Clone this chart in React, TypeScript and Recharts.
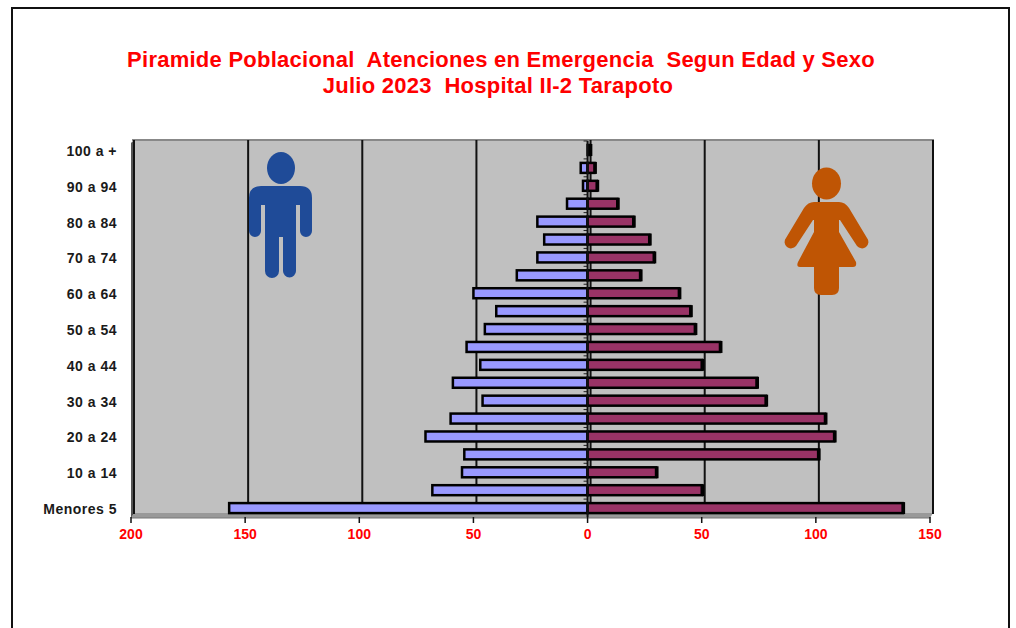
import { BarChart, Bar, XAxis, YAxis, CartesianGrid, ReferenceLine } from 'recharts';

const ageGroups = [
  'Menores 5', '5 a 9', '10 a 14', '15 a 19', '20 a 24', '25 a 29', '30 a 34',
  '35 a 39', '40 a 44', '45 a 49', '50 a 54', '55 a 59', '60 a 64', '65 a 69',
  '70 a 74', '75 a 79', '80 a 84', '85 a 89', '90 a 94', '95 a 99', '100 a +',
];
const hombres = [157, 68, 55, 54, 71, 60, 46, 59, 47, 53, 45, 40, 50, 31, 22, 19, 22, 9, 2, 3, 0];
const mujeres = [138, 50, 30, 101, 108, 104, 78, 74, 50, 58, 47, 45, 40, 23, 29, 27, 20, 13, 4, 3, 1];
const xTicks = [-200, -150, -100, -50, 0, 50, 100, 150];

const tableData = ageGroups.map((edad, i) => ({
  edad,
  hombres: -hombres[i],
  mujeres: mujeres[i],
}));

const FONT = '"Liberation Sans", Arial, sans-serif';

function HombreBar(props: any) {
  const { x, y, width, height } = props;
  const left = Math.min(x, x + width);
  return (
    <g>
      <line x1={x - 4} x2={x} y1={y - 4} y2={y - 4} stroke="#222" strokeWidth={1} />
      <rect x={left} y={y} width={Math.abs(width)} height={height} fill="#9999FF" stroke="#000" strokeWidth={2.5} />
    </g>
  );
}

function MujerBar(props: any) {
  const { x, y, width, height } = props;
  return (
    <g>
      <rect x={x} y={y} width={width} height={height} fill="#993366" stroke="#000" strokeWidth={2.5} />
      <line x1={x + width + 1.5} x2={x + width + 1.5} y1={y - 1} y2={y + height + 1} stroke="#000" strokeWidth={2} />
    </g>
  );
}

function GridLine(props: any) {
  return <line x1={props.x1 + 3} x2={props.x2 + 3} y1={props.y1 - 1} y2={props.y2 - 3} stroke="#111" strokeWidth={2} />;
}

function Backdrop() {
  return (
    <svg width={1016} height={628} style={{ position: 'absolute', left: 0, top: 0 }}>
      <rect x={134} y={140} width={799} height={374} fill="#C0C0C0" />
      <path d="M131 143 L134 140 L134 514 L131 518 Z" fill="#555" />
      <path d="M131 518 L134 513 L933 513 L930 518 Z" fill="#999" />
      <line x1={131} x2={930} y1={518} y2={518} stroke="#777" strokeWidth={1} />
      <line x1={132} x2={934} y1={140} y2={140} stroke="#888" strokeWidth={2} />
    </svg>
  );
}

function Figuras() {
  return (
    <svg width={1016} height={628} style={{ position: 'absolute', left: 0, top: 0 }}>
      <g fill="#1F4B98">
        <ellipse cx={281} cy={168} rx={14} ry={16} />
        <path d="M261 186 H300 Q312 186 312 198 V231 A6 6 0 0 1 300 231 V205 H296 V271 A6.5 6.5 0 0 1 283 271 V237 H279 V271 A7 7 0 0 1 265 271 V205 H261 V231 A6 6 0 0 1 249 231 V198 Q249 186 261 186 Z" />
      </g>
      <g fill="#BF5504">
        <ellipse cx={826.5} cy={183.5} rx={14.5} ry={16} />
        <path d="M814 202 H839 Q845 202 849 208 L867 238 A6 6 0 0 1 857 246 L840 220 H839 V232 L856 262 Q857 267 853 267 H839 V288 Q839 295 832 295 H821 Q814 295 814 288 V267 H800 Q796 267 798 262 L814 232 V220 H813 L796 246 A6 6 0 0 1 786 238 L804 208 Q808 202 814 202 Z" />
      </g>
    </svg>
  );
}

const titleStyle = {
  position: 'absolute',
  top: 47,
  width: 1002,
  textAlign: 'center',
  fontFamily: FONT,
  fontWeight: 700,
  fontSize: 22,
  letterSpacing: 0.25,
  lineHeight: '26px',
  color: '#FF0000',
  whiteSpace: 'pre',
} as const;

export default function App() {
  return (
    <div style={{ position: 'fixed', left: 0, top: 0, width: 1016, height: 628, overflow: 'hidden', background: '#fff' }}>
      <div style={{ position: 'absolute', left: 11, top: 7, width: 999, height: 660, border: '2px solid #111', boxSizing: 'border-box' }} />
      <Backdrop />
      <div style={{ position: 'absolute', left: 0, top: 0 }}>
        <BarChart
          width={1016}
          height={628}
          data={tableData}
          layout="vertical"
          stackOffset="sign"
          barSize={10}
          margin={{ top: 141, right: 86, bottom: 85, left: 0 }}
        >
          <CartesianGrid horizontal={false} vertical={<GridLine />} />
          <XAxis
            type="number"
            domain={[-200, 150]}
            ticks={xTicks}
            tickFormatter={(v: number) => String(Math.abs(v))}
            tick={{ fontSize: 14, fontWeight: 700, fill: '#FF0000', fontFamily: FONT, dy: 1 }}
            tickLine={{ stroke: '#111', strokeWidth: 1.5 }}
            axisLine={false}
            tickSize={6}
            tickMargin={5}
            height={26}
          />
          <YAxis
            type="category"
            dataKey="edad"
            reversed
            interval={1}
            width={131}
            tick={{ fontSize: 14, fontWeight: 700, fill: '#1A1A1A', fontFamily: FONT, letterSpacing: 0.5, dy: 1 }}
            tickLine={false}
            axisLine={false}
            tickMargin={8}
          />
          <ReferenceLine x={0} stroke="#111" strokeWidth={2} />
          <Bar dataKey="hombres" stackId="a" shape={<HombreBar />} isAnimationActive={false} />
          <Bar dataKey="mujeres" stackId="a" shape={<MujerBar />} isAnimationActive={false} />
        </BarChart>
      </div>
      <Figuras />
      <div style={{ ...titleStyle, left: 0 }}>
        {'Piramide Poblacional  Atenciones en Emergencia  Segun Edad y Sexo'}
      </div>
      <div style={{ ...titleStyle, left: -3, top: 73 }}>
        {'Julio 2023  Hospital II-2 Tarapoto'}
      </div>
    </div>
  );
}
